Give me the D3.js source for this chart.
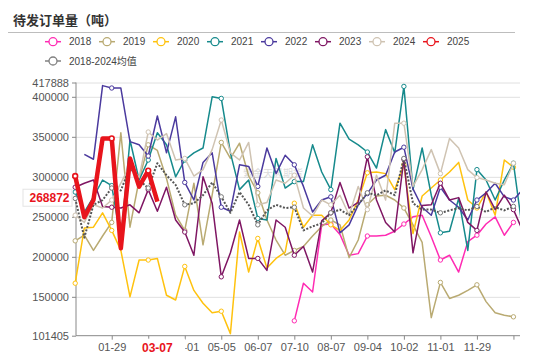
<!DOCTYPE html>
<html><head><meta charset="utf-8">
<script src="https://cdn.jsdelivr.net/npm/d3@7"></script>
<style>
body{margin:0;background:#fff;}
svg{display:block;font-family:"Liberation Sans",Arial,"Noto Sans CJK SC",sans-serif;}
</style>
</head><body>
<svg id="chart" width="550" height="356"></svg>
<script>
// ---------------- data ----------------
const categories = ["01-02","01-08","01-15","01-22","01-29","02-05","02-12","02-19","02-26","03-07",
  "03-14","03-21","04-01","04-09","04-17","04-25","05-05","05-13","05-21","05-29",
  "06-07","06-14","06-21","06-28","07-10","07-17","07-24","07-31","08-07","08-14",
  "08-21","08-28","09-04","09-11","09-18","09-25","10-02","10-11","10-18","10-25",
  "11-01","11-08","11-15","11-22","11-29","12-06","12-13","12-20","12-27","12-31"];
const xTickLabels = ["01-29","04-01","05-05","06-07","07-10","08-07","09-04","10-02","11-01","11-29"];
const yTickValues = [101405,150000,200000,250000,300000,350000,400000,417888];
const seriesNames = ["2018","2019","2020","2021","2022","2023","2024","2025","2018-2024均值"];

const s2018 = [null,null,null,null,null,null,null,null,null,null,null,null,null,null,null,null,null,null,null,null,null,null,null,null,
  120000,167000,156000,240000,241000,228000,202000,204000,226000,226000,227000,232000,241000,250000,252000,225000,
  196000,202000,181000,219000,227000,241000,250000,227000,243000,null];
const s2019 = [220000,227000,208000,226000,243000,355000,237000,296000,340000,333000,298000,252000,233000,292000,215000,277000,
  343000,323000,342000,301000,280000,246000,221000,202000,208000,213000,226000,238000,246000,240000,199000,221000,
  265000,276000,277000,271000,261000,240000,218000,124000,168000,148000,152000,158000,165000,144000,130000,127000,125000,null];
const s2020 = [167000,236000,237000,255000,233000,208000,150000,196000,196000,198000,152000,146000,188000,158000,142000,130000,
  132000,104000,231000,181000,223000,186000,198000,206000,267000,237000,252000,252000,240000,233000,246000,271000,
  305000,306000,304000,284000,315000,229000,276000,286000,296000,306000,318000,271000,261000,281000,252000,321000,312000,null];
const s2021 = [281000,256000,275000,296000,289000,221000,346000,296000,321000,355000,340000,300000,321000,330000,336000,400000,
  398000,330000,284000,296000,248000,246000,323000,286000,294000,294000,340000,306000,284000,367000,347000,340000,
  331000,311000,359000,330000,413000,284000,336000,277000,230000,232000,273000,208000,309000,296000,271000,296000,317000,233000];
const s2022 = [null,328000,322000,414000,411000,411000,344000,340000,326000,376000,330000,375000,293000,271000,318000,330000,
  262000,257000,315000,313000,288000,336000,304000,327000,315000,288000,256000,271000,275000,230000,240000,265000,
  279000,296000,302000,331000,337000,285000,262000,252000,287000,271000,262000,246000,271000,280000,292000,275000,271000,284000];
const s2023 = [287000,292000,296000,263000,262000,261000,265000,255000,284000,257000,287000,246000,231000,202000,300000,267000,
  175000,205000,246000,198000,198000,183000,246000,237000,202000,213000,181000,245000,255000,293000,261000,268000,
  325000,271000,243000,231000,322000,205000,264000,265000,292000,271000,274000,243000,233000,281000,259000,277000,259000,233000];
const s2024 = [252000,243000,265000,261000,271000,292000,315000,299000,356000,346000,354000,321000,323000,301000,309000,334000,
  371000,330000,321000,343000,265000,268000,296000,292000,302000,261000,251000,271000,265000,277000,252000,288000,
  259000,302000,271000,367000,367000,288000,309000,334000,304000,348000,336000,309000,299000,296000,292000,290000,317000,null];
const s2025 = [301000,249500,271000,348000,348000,210750,323000,287750,307750,268872];
const sMean = [273000,224000,265000,271000,286000,283000,312000,296000,286000,317000,302000,290000,265000,267000,277000,293000,
  275000,255000,281000,265000,240000,258000,265000,261000,262000,233000,238000,242000,255000,259000,252000,265000,
  280000,277000,283000,277000,323000,267000,259000,259000,255000,258000,261000,258000,263000,256000,262000,258000,263000,null];

const pointerIndex = 9;          // "03-07"
const pointerValue = 268872;

// ---------------- chart ----------------
const colors = ["#ff2bb3","#b9aa72","#ffc20e","#168a8c","#4b3a9e","#7f1663","#cfc3b2","#e8141c","#808080"];
const seriesData = [s2018,s2019,s2020,s2021,s2022,s2023,s2024,sMean,s2025];
const seriesColorIdx = [0,1,2,3,4,5,6,8,7];

const svg = d3.select("#chart");
const pL = 76, pR = 520, pT = 82.5, pB = 335.7;
const x = d3.scaleLinear().domain([0, categories.length - 1]).range([75.2, 75.2 + 9.13*(categories.length-1)]);
const y = d3.scaleLinear().domain([101405, 417888]).range([pB, pT]);

// title
svg.append("text").attr("x", 13).attr("y", 24.5).text("待发订单量（吨）")
  .attr("font-family","'Noto Sans CJK SC',sans-serif").attr("font-weight","bold")
  .attr("font-size", 13).attr("fill", "#333");
svg.append("line").attr("x1", 8).attr("x2", 515).attr("y1", 32.5).attr("y2", 32.5)
  .attr("stroke", "#bdbdbd").attr("stroke-width", 1);

// legend
const legend = svg.append("g");
seriesNames.forEach((name, k) => {
  const row = k < 8 ? 0 : 1;
  const ix = 45 + 54 * (k < 8 ? k : 0);
  const iy = row === 0 ? 41.7 : 61;
  const c = colors[k];
  legend.append("line").attr("x1", ix).attr("x2", ix + 16).attr("y1", iy).attr("y2", iy)
    .attr("stroke", c).attr("stroke-width", 1.5);
  legend.append("circle").attr("cx", ix + 8).attr("cy", iy).attr("r", 4)
    .attr("fill", "#fff").attr("stroke", c).attr("stroke-width", 1.3);
  legend.append("text").attr("x", ix + 24).attr("y", iy + 3.7).text(name)
    .attr("font-size", 10).attr("fill", "#444")
    .attr("font-family", "'Liberation Sans','Noto Sans CJK SC',sans-serif");
});

// grid lines
const grid = svg.append("g").attr("transform", `translate(${pL},0)`)
  .call(d3.axisLeft(y).tickValues(yTickValues.filter(v => v !== 101405)).tickSize(-(pR - pL)).tickFormat(""));
grid.select(".domain").remove();
grid.selectAll(".tick line").attr("stroke", "#e0e0e0").attr("stroke-width", 1);

// y axis
const ya = svg.append("g").attr("transform", `translate(${pL},0)`)
  .call(d3.axisLeft(y).tickValues(yTickValues).tickSize(4).tickPadding(3).tickFormat(d => String(d)));
ya.select(".domain").attr("stroke", "#888").attr("d", `M0,${pT}V${pB}`);
ya.selectAll(".tick line").attr("stroke", "#888");
ya.selectAll(".tick text").attr("font-size", 11).attr("fill", "#555")
  .attr("font-family", "'Liberation Sans',Arial,sans-serif");

// x axis
const tickIdx = d3.range(4, categories.length - 1, 4);
const xa = svg.append("g").attr("transform", `translate(0,${pB})`)
  .call(d3.axisBottom(x).tickValues(tickIdx).tickSize(4).tickPadding(4)
    .tickFormat(i => xTickLabels.includes(categories[i]) ? categories[i] : ""));
xa.select(".domain").attr("stroke", "#888").attr("d", `M${pL},0H${pR}`);
xa.selectAll(".tick line").attr("stroke", "#888");
xa.selectAll(".tick text").attr("font-size", 11).attr("fill", "#555")
  .attr("font-family", "'Liberation Sans',Arial,sans-serif");

// clip
svg.append("clipPath").attr("id", "clip").append("rect")
  .attr("x", 60).attr("y", pT - 10).attr("width", pR - 60).attr("height", pB - pT + 20);

// watermark
svg.append("text").attr("x", 243).attr("y", 176.5).text("紫金天风期货")
  .attr("font-family","'Noto Sans CJK SC',sans-serif").attr("font-size", 10)
  .attr("fill", "#999").attr("opacity", 0.35);

const plot = svg.append("g").attr("clip-path", "url(#clip)");
const line = d3.line().defined(d => d != null).x((d, i) => x(i)).y(d => y(d));

seriesData.forEach((data, n) => {
  const ci = seriesColorIdx[n];
  const c = colors[ci];
  const isRed = ci === 7, isMean = ci === 8;
  const g = plot.append("g");
  g.append("path").datum(data).attr("d", line).attr("fill", "none")
    .attr("stroke", isMean ? "#555" : c)
    .attr("stroke-width", isRed ? 4.5 : (isMean ? 2 : 1.5))
    .attr("stroke-dasharray", isMean ? "2,1.6" : null)
    .attr("stroke-linejoin", "round");
  const pts = data.map((d, i) => ({d, i})).filter(p => p.d != null && p.i % 4 === 0);
  g.selectAll("circle").data(pts).join("circle")
    .attr("cx", p => x(p.i)).attr("cy", p => y(p.d))
    .attr("r", isRed ? 2.4 : 2.2).attr("fill", "#fff")
    .attr("stroke", isMean ? "#777" : c).attr("stroke-width", isRed ? 1.6 : 1);
});

// axis pointer labels
const px = x(pointerIndex);
const xl = svg.append("g");
xl.append("rect").attr("x", px - 28).attr("y", pB + 3).attr("width", 56).attr("height", 18).attr("fill", "#fff");
xl.append("text").attr("x", px).attr("y", pB + 16.5).attr("text-anchor", "middle")
  .text(categories[pointerIndex]).attr("font-size", 12).attr("font-weight", "bold")
  .attr("fill", "#e8141c").attr("font-family", "'Liberation Sans',Arial,sans-serif");

const py = y(pointerValue) - 4;
const yl = svg.append("g");
yl.append("rect").attr("x", 23).attr("y", py - 8.5).attr("width", 49).attr("height", 17)
  .attr("fill", "#fff").attr("stroke", "#e4e4e4").attr("stroke-width", 1);
yl.append("text").attr("x", 69.5).attr("y", py + 4.3).attr("text-anchor", "end")
  .text(String(pointerValue)).attr("font-size", 12).attr("font-weight", "bold")
  .attr("fill", "#e8141c").attr("font-family", "'Liberation Sans',Arial,sans-serif");
</script>
</body></html>
